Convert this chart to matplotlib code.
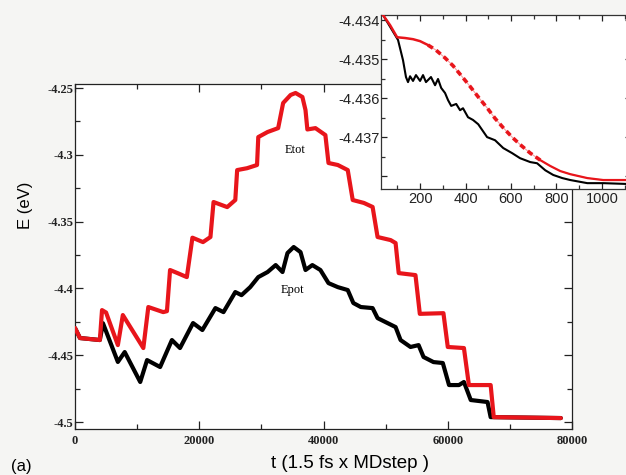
import matplotlib.pyplot as plt
from matplotlib.ticker import MultipleLocator, FixedLocator, FixedFormatter

# main panel: Etot (red) and Epot (black) vs MD step
etot_t = [0, 800, 4000, 4350, 5000, 6900, 7700, 11000, 11800, 14200, 14800, 15300, 16500, 18000,
          18900, 20600, 21800, 22300, 24500, 25800, 26100, 27700, 29300, 29500, 31000, 32700,
          33500, 34700, 35500, 36600, 37100, 37400, 38700, 40300, 40800, 42300, 43900, 44700,
          46500, 47900, 48700, 50800, 51600, 52100, 54800, 55500, 59300, 60000, 62600, 63400,
          66900, 67400, 78200]
etot_e = [-4.4296, -4.4371, -4.4386, -4.4162, -4.4180, -4.4424, -4.4199, -4.4446, -4.4139, -4.4177,
          -4.4170, -4.3862, -4.3885, -4.3915, -4.3620, -4.3653, -4.3615, -4.3353, -4.3391, -4.3338,
          -4.3114, -4.3100, -4.3076, -4.2867, -4.2829, -4.2800, -4.2612, -4.2552, -4.2537, -4.2567,
          -4.2665, -4.2810, -4.2800, -4.2852, -4.3061, -4.3076, -4.3114, -4.3338, -4.3360, -4.3390,
          -4.3615, -4.3638, -4.3660, -4.3885, -4.3900, -4.4190, -4.4185, -4.4438, -4.4446, -4.4723,
          -4.4723, -4.4963, -4.4970]

epot_t = [0, 800, 4000, 4500, 6900, 8000, 10500, 11600, 13700, 15600, 16900, 19000, 20500, 22600,
          23900, 25800, 26800, 28200, 29500, 31000, 32300, 33400, 34200, 35200, 36300, 37100,
          38200, 39500, 40800, 42300, 43900, 44800, 46000, 47900, 48700, 50300, 51600, 52400,
          54000, 55300, 56100, 57700, 59200, 60200, 61800, 62600, 63700, 66400, 66900, 78200]
epot_e = [-4.4296, -4.4371, -4.4386, -4.4260, -4.4550, -4.4476, -4.4700, -4.4536, -4.4588, -4.4386,
          -4.4446, -4.4259, -4.4311, -4.4147, -4.4177, -4.4027, -4.4050, -4.3990, -4.3915, -4.3877,
          -4.3825, -4.3877, -4.3735, -4.3690, -4.3728, -4.3862, -4.3825, -4.3862, -4.3960, -4.3990,
          -4.4012, -4.4109, -4.4139, -4.4147, -4.4222, -4.4259, -4.4289, -4.4386, -4.4438, -4.4424,
          -4.4513, -4.4551, -4.4558, -4.4723, -4.4723, -4.4700, -4.4835, -4.4850, -4.4963, -4.4970]

main_yticks = [-4.5, -4.45, -4.4, -4.35, -4.3, -4.25]
main_ylabels = ['-4.5', '-4.45', '-4.4', '-4.35', '-4.3', '-4.25']
main_xticks = [0, 20000, 40000, 60000, 80000]
main_xlabels = ['0', '20000', '40000', '60000', '80000']

# inset: first ~1000 steps
ins_red_x = [37, 68, 99, 134, 169, 200, 235, 270, 310, 345, 385, 420, 456, 495, 530, 566, 605,
             640, 685, 729, 773, 817, 861, 936, 1006, 1107]
ins_red_y = [-4.43387, -4.43413, -4.43444, -4.43446, -4.43449, -4.43454, -4.43464, -4.43477,
             -4.43497, -4.43517, -4.43545, -4.43570, -4.43597, -4.43625, -4.43652, -4.43676,
             -4.43700, -4.43719, -4.43741, -4.43759, -4.43774, -4.43787, -4.43795, -4.43805,
             -4.43810, -4.43810]
ins_blk_x = [37, 103, 125, 138, 147, 156, 169, 182, 200, 213, 226, 248, 266, 279, 293, 310, 323,
             337, 359, 376, 389, 411, 433, 456, 495, 530, 566, 605, 640, 685, 715, 751, 786, 826,
             861, 936, 1006, 1107]
ins_blk_y = [-4.43387, -4.43451, -4.43503, -4.43546, -4.43559, -4.43544, -4.43556, -4.43541,
             -4.43556, -4.43541, -4.43559, -4.43546, -4.43567, -4.43551, -4.43574, -4.43587,
             -4.43605, -4.43620, -4.43615, -4.43631, -4.43626, -4.43649, -4.43656, -4.43667,
             -4.43700, -4.43708, -4.43728, -4.43741, -4.43754, -4.43764, -4.43767, -4.43785,
             -4.43797, -4.43805, -4.43810, -4.43818, -4.43818, -4.43820]
ins_yticks = [-4.438, -4.437, -4.436, -4.435, -4.434]
ins_ylabels = ['', '-4.437', '-4.436', '-4.435', '-4.434']
ins_xticks = [200, 400, 600, 800, 1000]
ins_xlabels = ['200', '400', '600', '800', '1000']

RED = '#e8151b'
SERIF = ['Liberation Serif', 'DejaVu Serif']
SANS = ['Liberation Sans', 'DejaVu Sans']


def style_axes(ax, color='#222222'):
    """Thin frame with inward ticks on all four sides."""
    for sp in ax.spines.values():
        sp.set_linewidth(0.9)
        sp.set_color(color)
    ax.tick_params(which='both', direction='in', top=True, right=True, colors=color, width=0.9)
    ax.tick_params(which='major', length=6)
    ax.tick_params(which='minor', length=3.5)


fig = plt.figure(figsize=(6.26, 4.75), dpi=100)
fig.patch.set_facecolor('#f5f5f3')

# main panel
ax = fig.add_axes([0.1198, 0.0968, 0.794, 0.7263])
ax.set_facecolor('white')
ax.plot(epot_t, epot_e, color='black', lw=3.0, solid_joinstyle='round', solid_capstyle='round', zorder=2)
ax.plot(etot_t, etot_e, color=RED, lw=3.0, solid_joinstyle='round', solid_capstyle='round', zorder=3)
ax.set_xlim(0, 80000)
ax.set_ylim(-4.5052, -4.247)
style_axes(ax)
ax.yaxis.set_major_locator(FixedLocator(main_yticks))
ax.yaxis.set_major_formatter(FixedFormatter(main_ylabels))
ax.yaxis.set_minor_locator(MultipleLocator(0.025))
ax.xaxis.set_major_locator(FixedLocator(main_xticks))
ax.xaxis.set_major_formatter(FixedFormatter(main_xlabels))
ax.xaxis.set_minor_locator(MultipleLocator(10000))
for lab in ax.get_xticklabels() + ax.get_yticklabels():
    lab.set_family(SERIF)
    lab.set_fontsize(9)
    lab.set_fontweight('bold')
ax.tick_params(axis='y', pad=1)
ax.tick_params(axis='x', pad=4)
ax.text(35500, -4.2964, 'Etot', family=SERIF, fontsize=9, ha='center', va='center')
ax.text(35000, -4.4012, 'Epot', family=SERIF, fontsize=9, ha='center', va='center')

fig.text(0.559, 0.025, 't (1.5 fs x MDstep )', family=SANS, fontsize=13.5, ha='center', va='center')
fig.text(0.040, 0.568, 'E (eV)', family=SANS, fontsize=12, rotation=90, ha='center', va='center')
fig.text(0.018, 0.018, '(a)', family=SANS, fontsize=12, ha='left', va='center')

# inset panel
ins = fig.add_axes([0.6086, 0.6021, 0.40, 0.3663])
ins.set_facecolor('white')
ins.plot(ins_blk_x, ins_blk_y, color='black', lw=1.5, zorder=2)
ins.plot(ins_red_x, ins_red_y, color=RED, lw=0.8, alpha=0.4, zorder=3)
ins.plot(ins_red_x[:7], ins_red_y[:7], color=RED, lw=1.8, zorder=3)
ins.plot(ins_red_x[6:20], ins_red_y[6:20], color=RED, lw=2.6, dashes=(1.6, 1.1), zorder=3)
ins.plot(ins_red_x[19:], ins_red_y[19:], color=RED, lw=1.6, zorder=3)
ins.set_xlim(28, 1130)
ins.set_ylim(-4.43833, -4.43387)
style_axes(ins, color='#333333')
ins.yaxis.set_major_locator(FixedLocator(ins_yticks))
ins.yaxis.set_major_formatter(FixedFormatter(ins_ylabels))
ins.yaxis.set_minor_locator(MultipleLocator(0.0005))
ins.xaxis.set_major_locator(FixedLocator(ins_xticks))
ins.xaxis.set_major_formatter(FixedFormatter(ins_xlabels))
ins.xaxis.set_minor_locator(MultipleLocator(100))
ins.tick_params(which='major', length=4, labelsize=10.5, colors='#222222')
ins.tick_params(which='minor', length=3)
ins.tick_params(axis='y', pad=1)
ins.tick_params(axis='x', pad=2)
for lab in ins.get_xticklabels() + ins.get_yticklabels():
    lab.set_family(SANS)

fig.savefig('out.png', dpi=100, facecolor=fig.get_facecolor())
